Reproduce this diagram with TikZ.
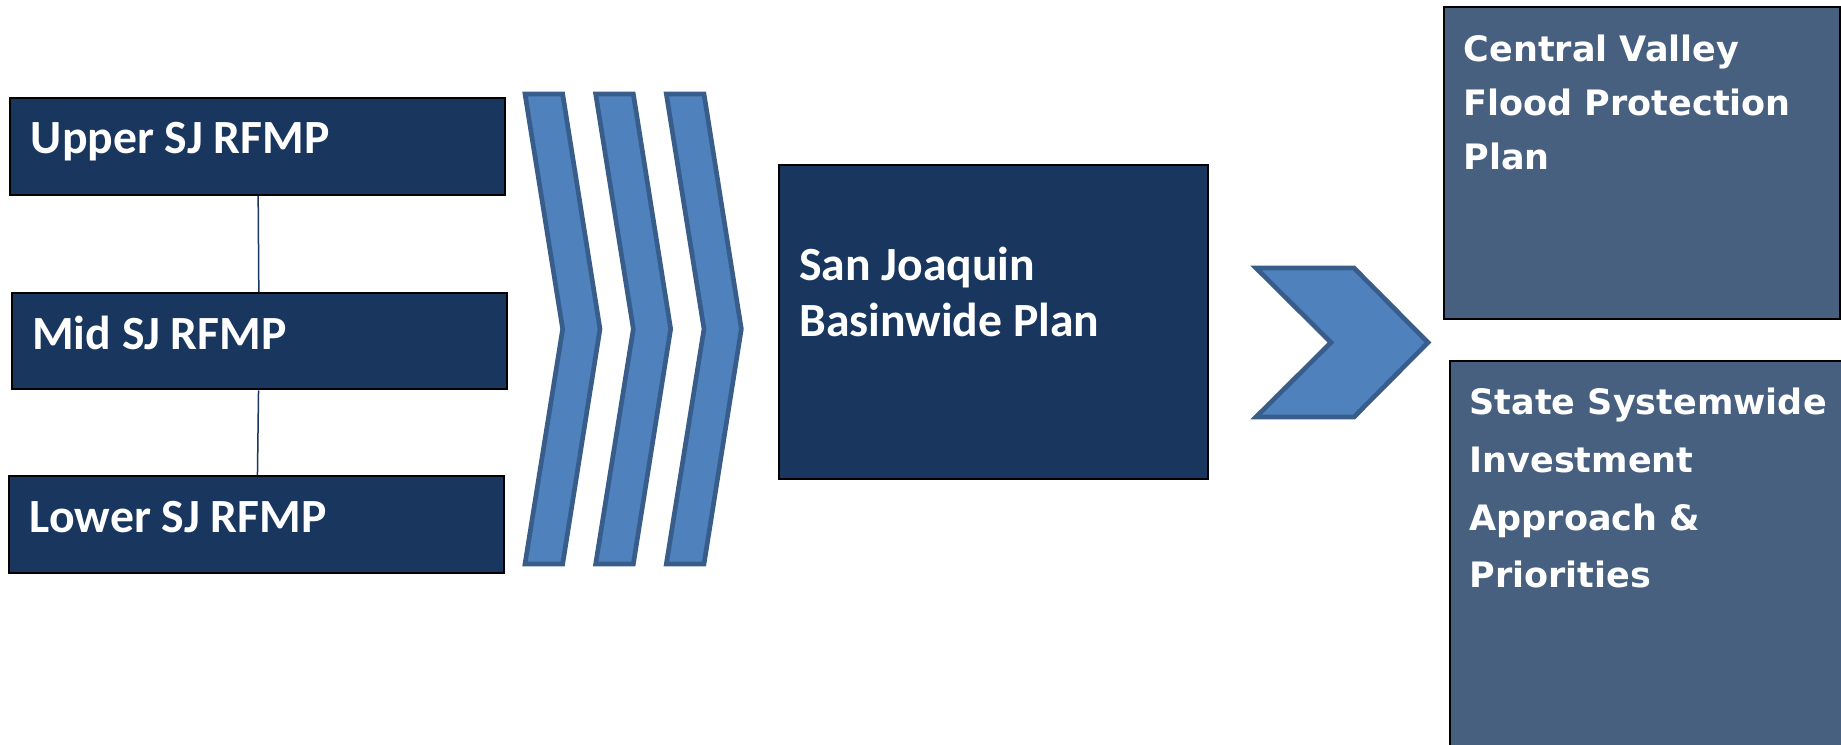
\documentclass[tikz,border=0pt]{standalone}
\usepackage{fontspec}
\setmainfont{Carlito}
\newfontfamily\widefont{DejaVu Sans}
\usepackage{xcolor}
\definecolor{sjnavy}{RGB}{24,54,94}
\definecolor{slateblue}{RGB}{71,96,127}
\definecolor{chevronblue}{RGB}{79,129,189}
\definecolor{chevronedge}{RGB}{56,93,138}
\tikzset{planbox/.style={rectangle, draw=black, line width=0.6pt, inner sep=0pt, anchor=north west},
rfmpnode/.style={planbox, fill=sjnavy, minimum width=148.5pt, minimum height=28.9pt},
basinnode/.style={planbox, fill=sjnavy, minimum width=128.7pt, minimum height=94.2pt},
statenode/.style={planbox, fill=slateblue},
rfmptext/.style={anchor=base west, inner sep=0pt, text=white, font=\fontsize{14.3}{16.9}\selectfont\bfseries, align=left},
statetext/.style={anchor=base west, inner sep=0pt, text=white, align=left},
chevron/.style={fill=chevronblue, draw=chevronedge, line width=1.4pt, line join=miter}}

\begin{document}
\begin{tikzpicture}
                \useasboundingbox (0pt, 0pt) rectangle (552.3pt, 223.2pt);

                % Regional plans
                \node[rfmpnode] (upper) at (2.8pt, 194pt) {};
                \node[rfmpnode] (mid) at (3.2pt, 135.6pt) {};
                \node[rfmpnode] (lower) at (2.5pt, 80.6pt) {};
                \draw[sjnavy, line width=0.45pt] (upper) -- (mid);
                \draw[sjnavy, line width=0.45pt] (mid) -- (lower);

                \node[rfmptext, xshift=6.3pt, yshift=-16.7pt] (uppertext) at (upper.north west) {Upper SJ RFMP};
                \node[rfmptext, xshift=6.3pt, yshift=-17.2pt] (midtext) at (mid.north west) {Mid SJ RFMP};
                \node[rfmptext, xshift=6.3pt, yshift=-17pt] (lowertext) at (lower.north west) {Lower SJ RFMP};

                % Chevrons
                \foreach \dx in {0pt, 21.2pt, 42.4pt} {
\filldraw[chevron, xshift=\dx] (157.5pt, 195pt) -- (168.8pt, 195pt) -- (180pt, 124.5pt) -- (168.8pt, 54pt) -- (157.5pt, 54pt) -- (168.8pt, 124.5pt) -- cycle;
}

                % Basinwide plan (base of a wrapped text sits on its last line)
                \node[basinnode] (basin) at (233.4pt, 174pt) {};
                \node[rfmptext, xshift=6.2pt, yshift=-51.7pt] (basintext) at (basin.north west) {San Joaquin\\Basinwide Plan};

                \filldraw[chevron] (376.8pt, 142.8pt) -- (406.2pt, 142.8pt) -- (428.4pt, 120.45pt) -- (406.2pt, 98.1pt) -- (376.8pt, 98.1pt) -- (399.3pt, 120.45pt) -- cycle;

                % State plans
                \node[statenode, minimum width=118.7pt, minimum height=93.6pt] (cvfpp) at (432.9pt, 221.4pt) {};
                \node[statenode, minimum width=130pt, minimum height=130pt] (ssiap) at (434.7pt, 115.2pt) {};

                \node[statetext, font=\widefont\fontsize{10.5}{16.2}\selectfont\bfseries, xshift=6pt, yshift=-49pt] (cvfpptext) at (cvfpp.north west) {Central Valley\\Flood Protection\\Plan};
                \node[statetext, font=\widefont\fontsize{10.5}{17.3}\selectfont\bfseries, xshift=6pt, yshift=-68.3pt] (ssiaptext) at (ssiap.north west) {State Systemwide\\Investment\\Approach \&\\Priorities};
            \end{tikzpicture}
\end{document}
